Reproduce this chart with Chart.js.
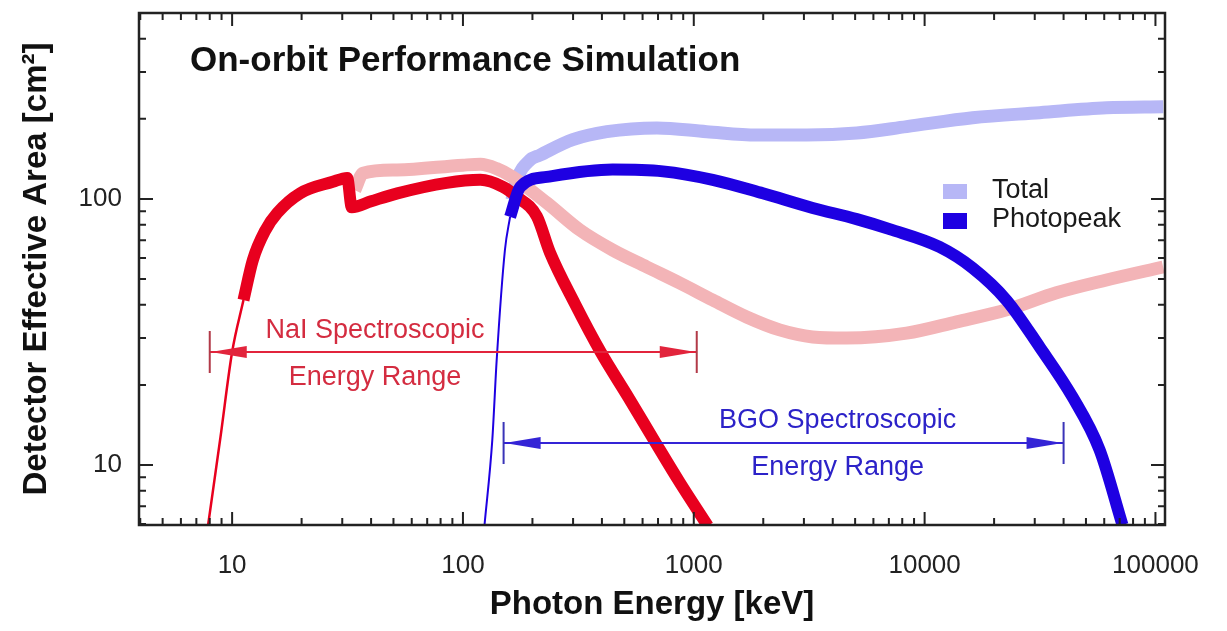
<!DOCTYPE html>
<html>
<head>
<meta charset="utf-8">
<title>On-orbit Performance Simulation</title>
<script src="https://cdn.jsdelivr.net/npm/chart.js@4.4.1/dist/chart.umd.min.js"></script>
<style>
  html, body { margin: 0; padding: 0; background: #fff; }
  #wrap { width: 1227px; height: 631px; }
</style>
</head>
<body>
<div id="wrap"><canvas id="areaChart" width="1227" height="631"></canvas></div>
<script>
// photon energy [keV] / effective area [cm2]
var naiPeakLowE = [7.87, 8.9, 10, 11.2];
var naiPeakLowA = [5.95, 12.7, 26.6, 41.7];
var naiPeakE = [11.2, 12.3, 13.9, 15.7, 19.7, 27.3, 31.5, 33.0, 40, 52, 85, 119, 149, 171, 209, 238, 305, 395, 520, 684, 869, 1150];
var naiPeakA = [41.7, 59, 76, 88.6, 105, 116, 120, 93, 98, 105, 115, 118, 111, 102, 86, 63, 40.5, 26.6, 18, 12.1, 8.6, 5.9];
var naiTotalE = [34.0, 36.9, 51.8, 100, 119, 140, 164, 231, 321, 445, 626, 869, 1208, 1694, 2354, 3273, 4590, 8356, 13770, 22650, 37250, 61380, 108000];
var naiTotalA = [108, 125, 128.5, 134, 135, 130, 121, 96.6, 76.4, 64.3, 55.5, 48.3, 41.7, 36.0, 32.2, 30.3, 30.0, 31.3, 34.5, 38.3, 44.4, 49.6, 55.5];

var bgoPeakLowE = [124, 134, 140, 152, 160];
var bgoPeakLowA = [5.95, 12.4, 24.8, 64.3, 85.6];
var bgoPeakE = [160, 177, 231, 445, 735, 1208, 1990, 3273, 5080, 7050, 11600, 16140, 22650, 31480, 43750, 57290, 71980];
var bgoPeakA = [85.6, 111, 121, 129, 127, 118, 105, 92.5, 84, 77, 66, 55, 41.6, 27.8, 18.0, 11.4, 5.95];
var bgoTotalE = [163, 171, 195, 215, 299, 420, 692, 1138, 1875, 3087, 5080, 8356, 16140, 31480, 61380, 108000];
var bgoTotalA = [99, 118, 140, 146, 167, 179, 185, 179, 174, 174, 177, 187, 202, 211, 220, 222];

// spectroscopic ranges (arrows)
var naiRange = [8, 1030];
var naiArrowA = 26.6;
var naiLabelE = 41.6;
var naiLabel = ["NaI Spectroscopic", "Energy Range"];
var bgoRange = [150, 40000];
var bgoArrowA = 12.1;
var bgoLabelE = 4200;
var bgoLabel = ["BGO Spectroscopic", "Energy Range"];

var xTickValues = [10, 100, 1000, 10000, 100000];
var yTickValues = [10, 100];
var legendItems = ["Total", "Photopeak"];

var FONT = "'Liberation Sans', Arial, Helvetica, sans-serif";
var RED = "#e8001e", PINK = "#f3b4b7", LAV = "#b7b7f6", BLUE = "#1e00e2";

function pts(E, A) {
  return E.map(function (e, i) { return { x: e, y: A[i] }; });
}

function line(data, color, width, order) {
  return {
    data: data,
    borderColor: color,
    borderWidth: width,
    pointRadius: 0,
    fill: false,
    cubicInterpolationMode: "monotone",
    borderCapStyle: "butt",
    borderJoinStyle: "round",
    order: order,
  };
}

function arrowHead(ctx, tipX, y, dir, color) {
  ctx.fillStyle = color;
  ctx.beginPath();
  ctx.moveTo(tipX, y);
  ctx.lineTo(tipX + dir * 36, y - 6);
  ctx.lineTo(tipX + dir * 36, y + 6);
  ctx.closePath();
  ctx.fill();
}

function rangeArrow(ctx, xs, ys, range, yv, color, barColor) {
  var x0 = xs.getPixelForValue(range[0]);
  var x1 = xs.getPixelForValue(range[1]);
  var y = ys.getPixelForValue(yv);
  ctx.strokeStyle = color;
  ctx.lineWidth = 2;
  ctx.beginPath();
  ctx.moveTo(x0, y);
  ctx.lineTo(x1, y);
  ctx.stroke();
  ctx.strokeStyle = barColor;
  ctx.beginPath();
  ctx.moveTo(x0, y - 21);
  ctx.lineTo(x0, y + 21);
  ctx.moveTo(x1, y - 21);
  ctx.lineTo(x1, y + 21);
  ctx.stroke();
  arrowHead(ctx, x0 + 1, y, 1, color);
  arrowHead(ctx, x1 - 1, y, -1, color);
}

var framePlugin = {
  id: "frame",
  afterDatasetsDraw: function (chart) {
    var ctx = chart.ctx;
    var a = chart.chartArea;
    var xs = chart.scales.x, ys = chart.scales.y;
    ctx.save();

    // annotations
    rangeArrow(ctx, xs, ys, naiRange, naiArrowA, "#e2243c", "#b23a48");
    rangeArrow(ctx, xs, ys, bgoRange, bgoArrowA, "#3424d6", "#3a34b8");
    ctx.font = "27px " + FONT;
    ctx.textAlign = "center";
    ctx.textBaseline = "middle";
    var ny = ys.getPixelForValue(naiArrowA), nx = xs.getPixelForValue(naiLabelE);
    ctx.fillStyle = "#d42c40";
    ctx.fillText(naiLabel[0], nx, ny - 21);
    ctx.fillText(naiLabel[1], nx, ny + 26);
    var by = ys.getPixelForValue(bgoArrowA), bx = xs.getPixelForValue(bgoLabelE);
    ctx.fillStyle = "#2c22c8";
    ctx.fillText(bgoLabel[0], bx, by - 22);
    ctx.fillText(bgoLabel[1], bx, by + 25);

    // legend
    ctx.textAlign = "left";
    ctx.fillStyle = LAV;
    ctx.fillRect(943, 184, 24, 15);
    ctx.fillStyle = BLUE;
    ctx.fillRect(943, 213, 24, 16);
    ctx.fillStyle = "#1a1a1a";
    ctx.fillText(legendItems[0], 992, 191);
    ctx.fillText(legendItems[1], 992, 220);

    // title
    ctx.font = "bold 35px " + FONT;
    ctx.fillStyle = "#111";
    ctx.fillText("On-orbit Performance Simulation", a.left + 51, a.top + 48);

    // frame and inward ticks
    ctx.strokeStyle = "#222";
    ctx.lineWidth = 2.5;
    ctx.strokeRect(a.left, a.top, a.right - a.left, a.bottom - a.top);
    ctx.lineWidth = 2;
    ctx.beginPath();
    xTickValues.forEach(function (d) {
      for (var m = 2; m <= 9; m++) {
        var v = d / 10 * m;
        if (v < xs.min || v > xs.max) continue;
        var px = xs.getPixelForValue(v);
        ctx.moveTo(px, a.bottom); ctx.lineTo(px, a.bottom - 7);
        ctx.moveTo(px, a.top); ctx.lineTo(px, a.top + 7);
      }
      var p = xs.getPixelForValue(d);
      ctx.moveTo(p, a.bottom); ctx.lineTo(p, a.bottom - 13);
      ctx.moveTo(p, a.top); ctx.lineTo(p, a.top + 13);
    });
    [1, 10, 100].forEach(function (d) {
      for (var m = 2; m <= 9; m++) {
        var v = d * m;
        if (v < ys.min || v > ys.max) continue;
        var py = ys.getPixelForValue(v);
        ctx.moveTo(a.left, py); ctx.lineTo(a.left + 7, py);
        ctx.moveTo(a.right, py); ctx.lineTo(a.right - 7, py);
      }
    });
    yTickValues.forEach(function (d) {
      var py = ys.getPixelForValue(d);
      ctx.moveTo(a.left, py); ctx.lineTo(a.left + 14, py);
      ctx.moveTo(a.right, py); ctx.lineTo(a.right - 14, py);
    });
    ctx.stroke();
    ctx.restore();
  },
};

new Chart(document.getElementById("areaChart"), {
  type: "line",
  data: {
    datasets: [
      line(pts(bgoTotalE, bgoTotalA), LAV, 13, 6),
      line(pts(naiTotalE, naiTotalA), PINK, 13, 5),
      line(pts(naiPeakLowE, naiPeakLowA), RED, 2.5, 4),
      line(pts(naiPeakE, naiPeakA), RED, 12, 3),
      line(pts(bgoPeakLowE, bgoPeakLowA), BLUE, 2, 2),
      line(pts(bgoPeakE, bgoPeakA), BLUE, 12, 1),
    ],
  },
  options: {
    responsive: false,
    animation: false,
    devicePixelRatio: 1,
    layout: { padding: { top: 13, right: 62, left: 0, bottom: 0 } },
    plugins: { legend: { display: false }, tooltip: { enabled: false } },
    scales: {
      x: {
        type: "logarithmic",
        min: 3.95,
        max: 110000,
        grid: { display: false, drawTicks: false },
        border: { display: false },
        afterBuildTicks: function (s) {
          s.ticks = xTickValues.map(function (v) { return { value: v }; });
        },
        afterFit: function (s) {
          s.height = 106;
          s.paddingLeft = 0;
          s.paddingRight = 0;
        },
        ticks: {
          autoSkip: false,
          maxRotation: 0,
          padding: 25,
          color: "#222",
          font: { family: FONT, size: 26 },
          callback: function (v) { return String(v); },
        },
        title: {
          display: true,
          text: "Photon Energy [keV]",
          color: "#111",
          font: { family: FONT, size: 33, weight: "bold" },
          padding: { top: 0, bottom: 6 },
        },
      },
      y: {
        type: "logarithmic",
        min: 5.95,
        max: 500,
        grid: { display: false, drawTicks: false },
        border: { display: false },
        afterBuildTicks: function (s) {
          s.ticks = yTickValues.map(function (v) { return { value: v }; });
        },
        afterFit: function (s) {
          s.width = 139;
          s.paddingTop = 0;
          s.paddingBottom = 0;
        },
        ticks: {
          autoSkip: false,
          padding: 17,
          color: "#222",
          font: { family: FONT, size: 26 },
          callback: function (v) { return String(v); },
        },
        title: {
          display: true,
          text: "Detector Effective Area [cm\u00b2]",
          color: "#111",
          font: { family: FONT, size: 33, weight: "bold" },
          padding: { top: 17, bottom: 0 },
        },
      },
    },
  },
  plugins: [framePlugin],
});
</script>
</body>
</html>
